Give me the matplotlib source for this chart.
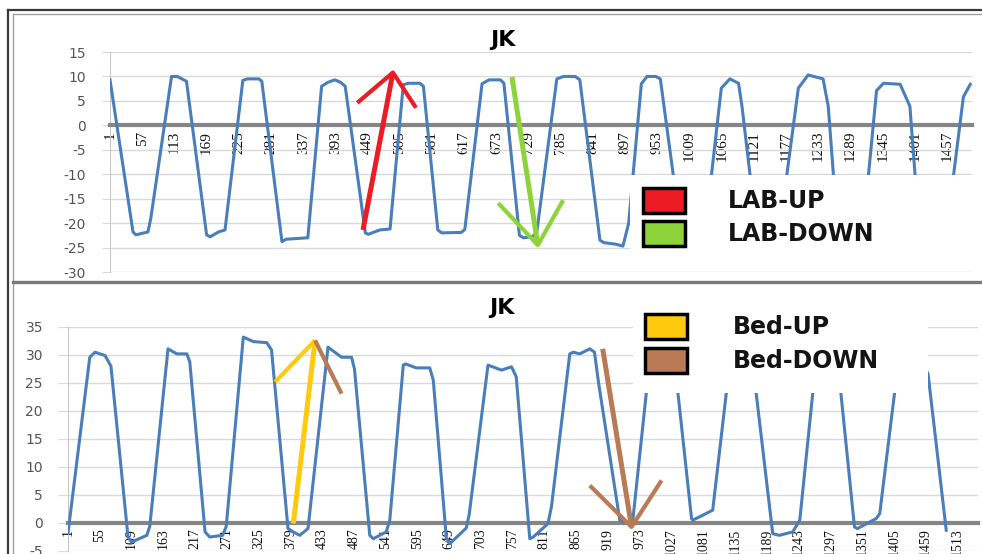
import matplotlib
matplotlib.use('Agg')
import matplotlib.pyplot as plt
from matplotlib.patches import Rectangle
from matplotlib.lines import Line2D

plt.rcParams['axes.unicode_minus'] = False

# --- data (sample index, value) ---
lab_x = [1, 41, 46, 67, 72, 108, 118, 134, 169, 175, 190, 201, 232, 240, 260, 265,
         300, 307, 345, 369, 380, 392, 402, 410, 445, 450, 470, 488, 511, 520, 540, 546,
         571, 578, 612, 618, 648, 660, 680, 686, 713, 720, 735, 743, 778, 790, 810, 818,
         853, 860, 880, 893, 903, 925, 935, 950, 958, 980, 993, 1035, 1047, 1064, 1079,
         1094, 1100, 1114, 1126, 1165, 1178, 1198, 1215, 1241, 1250, 1259, 1271, 1308,
         1320, 1334, 1346, 1375, 1392, 1401, 1413, 1457, 1468, 1485, 1497]
lab_y = [9.3, -21.8, -22.4, -21.8, -19.0, 10.0, 10.0, 9.0, -22.4, -22.8, -21.8, -21.4,
         9.2, 9.5, 9.5, 9.0, -23.8, -23.3, -23.0, 8.0, 8.8, 9.3, 8.8, 8.0, -22.0, -22.3,
         -21.4, -21.2, 8.3, 8.6, 8.6, 8.0, -21.4, -22.0, -21.9, -21.3, 8.5, 9.3, 9.3, 8.6,
         -22.5, -23.0, -22.8, -22.0, 9.5, 10.0, 10.0, 9.3, -23.5, -24.0, -24.3, -24.7,
         -20.0, 8.5, 10.0, 10.0, 9.5, -9.7, -22.2, -21.8, -10.1, 7.6, 9.5, 8.6, 3.9,
         -10.1, -22.2, -21.5, -10.1, 7.6, 10.3, 9.5, 3.9, -10.1, -22.0, -21.5, -10.1,
         7.1, 8.6, 8.4, 3.9, -10.1, -22.0, -21.5, -10.1, 5.8, 8.4]

bed_x = [1, 38, 47, 64, 74, 103, 109, 135, 140, 171, 186, 203, 208, 234, 242, 264, 270,
         299, 316, 339, 347, 375, 384, 395, 409, 443, 466, 483, 488, 514, 520, 542, 548,
         571, 575, 593, 616, 622, 644, 650, 678, 683, 715, 738, 755, 763, 786, 792, 817,
         823, 854, 860, 871, 888, 896, 903, 939, 950, 961, 984, 992, 1028, 1038, 1061,
         1063, 1086, 1097, 1120, 1128, 1162, 1171, 1199, 1210, 1233, 1245, 1267, 1275,
         1305, 1315, 1338, 1343, 1375, 1381, 1406, 1414, 1452, 1463, 1494]
bed_y = [-1.8, 29.6, 30.5, 29.9, 28.0, -2.5, -3.4, -2.2, -0.6, 31.1, 30.2, 30.2, 28.8,
         -1.6, -2.5, -2.2, -0.6, 33.2, 32.4, 32.2, 30.9, -1.0, -1.6, -2.2, -1.0, 31.4,
         29.6, 29.6, 27.5, -2.2, -2.8, -1.6, 0.5, 28.2, 28.4, 27.7, 27.7, 25.5, -2.5,
         -3.7, -0.9, 1.5, 28.2, 27.3, 27.9, 26.1, -2.8, -2.5, -0.1, 3.0, 30.2, 30.5,
         30.2, 31.1, 30.5, 25.0, 0.5, 0.0, 0.3, 23.1, 28.5, 28.5, 23.1, 0.8, 0.5, 1.7,
         2.3, 23.1, 28.5, 28.5, 23.1, -1.9, -2.2, -1.6, 0.5, 23.1, 28.5, 28.5, 23.1,
         -0.7, -1.0, 0.8, 1.7, 23.1, 28.5, 28.5, 26.7, -1.3]

lab_ticks = list(range(1, 1458, 56))
bed_ticks = list(range(1, 1514, 54))
lab_yticks = list(range(-30, 16, 5))
bed_yticks = list(range(-5, 36, 5))

W, H = 982, 554


def fx(px):
    return px / W


def fy(py):
    return 1 - py / H


fig = plt.figure(figsize=(9.82, 5.54), dpi=100)
blue = '#4a7ebb'


def setup(ax, ylim, yticks, xmax, xticks, xsize, tlen, pad):
    # spine position first: moving it resets the tick objects
    ax.spines['top'].set_visible(False)
    ax.spines['right'].set_visible(False)
    ax.spines['left'].set_color('#c8c8c8')
    ax.spines['bottom'].set_position(('data', 0))
    ax.spines['bottom'].set_color('#858585')
    ax.spines['bottom'].set_linewidth(3)
    ax.set_xlim(1, xmax)
    ax.set_ylim(*ylim)
    ax.set_yticks(yticks)
    ax.set_xticks(xticks)
    ax.set_xticklabels([str(t) for t in xticks], rotation=90, fontsize=xsize,
                       family='Liberation Serif', color='#111111')
    ax.grid(axis='y', color='#d9d9d9', lw=1.0)
    ax.set_axisbelow(True)
    ax.tick_params(axis='x', length=0, pad=4)
    ax.tick_params(axis='y', length=tlen, color='#d9d9d9', pad=pad,
                   labelsize=10, labelcolor='#555555')


# top chart
ax1 = fig.add_axes([fx(110), fy(272), fx(972) - fx(110), fy(52) - fy(272)])
setup(ax1, (-30, 15), lab_yticks, 1500, lab_ticks, 11, 5.8, 11.5)
ax1.plot(lab_x, lab_y, color=blue, lw=2.2, zorder=3, solid_joinstyle='round')

# bottom chart
ax2 = fig.add_axes([fx(68), fy(551), fx(978) - fx(68), fy(327) - fy(551)])
setup(ax2, (-5, 35), bed_yticks, 1548, bed_ticks, 10, 7.2, 10.8)
ax2.plot(bed_x, bed_y, color=blue, lw=2.2, zorder=3, solid_joinstyle='round')

fig.text(fx(503), fy(40), 'JK', fontsize=16, fontweight='bold', ha='center', va='center')
fig.text(fx(502), fy(308), 'JK', fontsize=16, fontweight='bold', ha='center', va='center')

# hand drawn arrows (annotations, in data units)
red, green, gold, brown = '#ed1c24', '#8dd43a', '#ffc90e', '#b97a57'
kw = dict(solid_capstyle='butt', clip_on=False, zorder=6)
ax1.plot([441, 493], [-21.4, 10.8], color=red, lw=3.6, **kw)
ax1.plot([431, 493, 533], [4.6, 10.8, 3.6], color=red, lw=3.0, **kw)
ax1.plot([700, 745], [9.9, -24.5], color=green, lw=3.6, **kw)
ax1.plot([676, 745, 789], [-15.9, -24.5, -15.3], color=green, lw=3.0, **kw)

ax2.plot([384, 421], [-0.1, 32.6], color=gold, lw=3.6, **kw)
ax2.plot([353, 421], [25.2, 32.6], color=gold, lw=3.0, **kw)
ax2.plot([421, 466], [32.6, 23.1], color=brown, lw=3.0, **kw)
ax2.plot([910, 959], [31.1, -0.7], color=brown, lw=3.6, **kw)
ax2.plot([888, 959, 1010], [6.7, -0.7, 7.6], color=brown, lw=3.0, **kw)

# pasted legend boxes
for x0, y0, x1, y1 in [(630, 175, 978, 262), (633, 305, 928, 393)]:
    fig.add_artist(Rectangle((fx(x0), fy(y1)), fx(x1) - fx(x0), fy(y0) - fy(y1),
                             transform=fig.transFigure, facecolor='white',
                             edgecolor='none', zorder=5))

legend_items = [(643, 188, red, 'LAB-UP', 728), (643, 221, green, 'LAB-DOWN', 728),
                (645, 314, gold, 'Bed-UP', 733), (645, 348, brown, 'Bed-DOWN', 733)]
for px, py, c, label, tx in legend_items:
    fig.add_artist(Rectangle((fx(px), fy(py + 25)), fx(42), fy(0) - fy(25),
                             transform=fig.transFigure, facecolor=c,
                             edgecolor='black', lw=2.5, zorder=6))
    fig.text(fx(tx), fy(py + 13), label, fontsize=17, fontweight='bold',
             color='#141414', ha='left', va='center', zorder=7)

# frame of the screenshot
frame = [([fx(8), 1], [fy(10), fy(10)], '#3a3a3a', 1.6),
         ([fx(13), 1], [fy(14), fy(14)], '#a0a0a0', 1.0),
         ([fx(8), fx(8)], [fy(10), 0], '#3a3a3a', 1.6),
         ([fx(13), fx(13)], [fy(14), 0], '#a0a0a0', 1.0),
         ([fx(13), 1], [fy(282), fy(282)], '#7a7a7a', 2.4)]
for xs, ys, c, w in frame:
    fig.add_artist(Line2D(xs, ys, color=c, lw=w, transform=fig.transFigure, zorder=8))

fig.savefig('out.png', dpi=100)
